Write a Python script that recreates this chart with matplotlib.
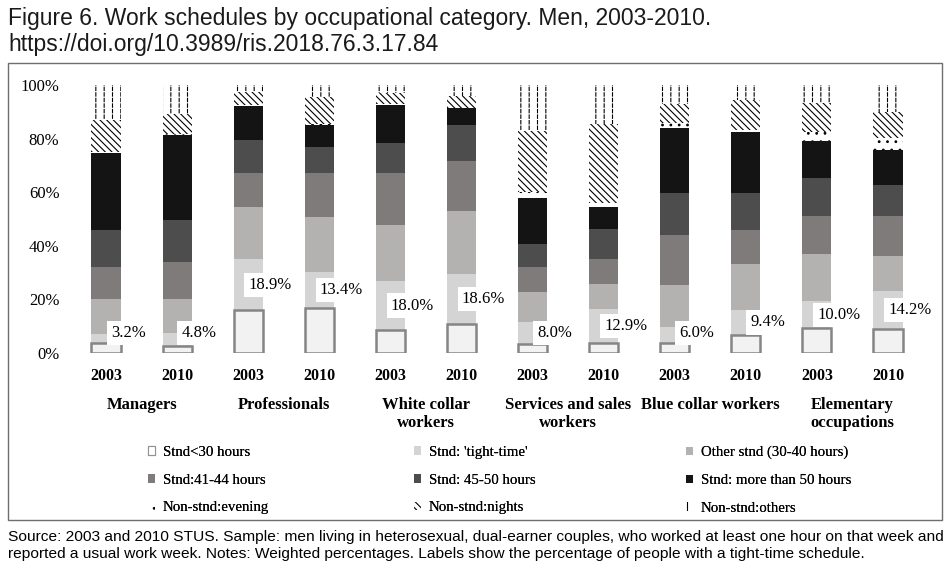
import numpy as np
import matplotlib
matplotlib.use("Agg")
import matplotlib.pyplot as plt
from matplotlib.patches import Patch, Rectangle
from matplotlib.ticker import PercentFormatter
from matplotlib.transforms import blended_transform_factory

# data (percentages)
categories = ["Managers", "Professionals", "White collar\nworkers",
              "Services and sales\nworkers", "Blue collar workers",
              "Elementary\noccupations"]
years = ["2003", "2010"]
series = ["Stnd<30 hours", "Stnd: 'tight-time'", "Other stnd (30-40 hours)",
          "Stnd:41-44 hours", "Stnd: 45-50 hours", "Stnd: more than 50 hours",
          "Non-stnd:evening", "Non-stnd:nights", "Non-stnd:others"]

# one row per bar: M03, M10, P03, P10, W03, W10, S03, S10, B03, B10, E03, E10
stnd_lt30 = [3.9, 2.6, 16.0, 16.8, 8.7, 10.9, 3.5, 3.6, 3.7, 6.7, 9.3, 8.9]
tight_time = [3.2, 4.8, 18.9, 13.4, 18.0, 18.6, 8.0, 12.9, 6.0, 9.4, 10.0, 14.2]
other_stnd = [12.9, 12.6, 19.7, 20.4, 21.1, 23.6, 11.1, 9.1, 15.7, 17.1, 17.6, 13.1]
stnd_41_44 = [12.2, 14.1, 12.7, 16.4, 19.2, 18.7, 9.4, 9.5, 18.6, 12.7, 14.2, 14.9]
stnd_45_50 = [13.7, 15.5, 12.2, 10.0, 11.2, 13.3, 8.6, 11.2, 15.8, 13.9, 14.1, 11.6]
stnd_gt50 = [28.6, 31.7, 12.7, 8.1, 14.3, 6.2, 17.4, 8.3, 24.3, 22.8, 14.0, 13.0]
nonstd_evening = [0.5, 0.3, 0.3, 0.4, 0.3, 0.3, 2.2, 1.3, 1.6, 0.6, 3.1, 4.4]
nonstd_nights = [11.9, 7.5, 5.0, 10.1, 4.2, 4.2, 22.8, 29.6, 7.1, 11.3, 10.9, 9.9]
nonstd_others = [13.1, 10.9, 2.5, 4.4, 3.0, 4.2, 17.0, 14.5, 7.2, 5.5, 6.8, 10.0]

values = [stnd_lt30, tight_time, other_stnd, stnd_41_44, stnd_45_50,
          stnd_gt50, nonstd_evening, nonstd_nights, nonstd_others]

# styles
faces = ["#f2f2f2", "#d4d4d4", "#b4b1b1", "#807b7b", "#4d4d4d", "#141414",
         "white", "white", "white"]
hatches = [None, None, None, None, None, None, "..", "\\\\\\\\\\", "||"]

serif = ["Liberation Serif", "DejaVu Serif"]
sans = ["Liberation Sans", "DejaVu Sans"]
plt.rcParams["hatch.linewidth"] = 0.8

fig = plt.figure(figsize=(9.51, 5.70), dpi=100)
ax = fig.add_axes([70.5 / 951, 1 - 353 / 570, 853 / 951, 268 / 570])

n = len(stnd_lt30)
x = np.arange(n)
w = 0.41
bottom = np.zeros(n)
for i, vals in enumerate(values):
    v = np.array(vals) / 100
    if i == 0:
        ax.bar(x, v, w, bottom=bottom, color=faces[i], edgecolor="#858585",
               linewidth=1.8, zorder=3)
    elif hatches[i] is None:
        ax.bar(x, v, w, bottom=bottom, color=faces[i], linewidth=0, zorder=2)
    else:
        ax.bar(x, v, w, bottom=bottom, color=faces[i], edgecolor="black",
               hatch=hatches[i], linewidth=0, zorder=2)
        if i == 8:
            # break the vertical lines into dashes
            ax.bar(x, v, w, bottom=bottom, color="none", edgecolor="white",
                   hatch="---", linewidth=0, zorder=2.5)
    bottom += v

# tight-time labels
lt30 = np.array(stnd_lt30) / 100
tt = np.array(tight_time) / 100
for xi, b, t in zip(x, lt30, tt):
    ax.text(xi + 0.31, max(b + t / 2, 0.075), f"{t * 100:.1f}%",
            ha="center", va="center", fontsize=12, family=serif, zorder=5,
            bbox=dict(facecolor="white", edgecolor="none", pad=3))

ax.set_xlim(-0.5, n - 0.5)
ax.set_ylim(0, 1)
ax.set_yticks(np.arange(0, 1.01, 0.2))
ax.yaxis.set_major_formatter(PercentFormatter(1.0, decimals=0))
ax.set_xticks(x)
ax.set_xticklabels(years * len(categories), fontweight="bold")
for lab in ax.get_xticklabels():
    lab.set_family(serif)
    lab.set_fontsize(11.5)
for lab in ax.get_yticklabels():
    lab.set_family(serif)
    lab.set_fontsize(12)
ax.tick_params(axis="y", length=0, pad=8)
ax.tick_params(axis="x", length=0, pad=11)
for s in ax.spines.values():
    s.set_visible(False)

trans = blended_transform_factory(ax.transData, ax.transAxes)
for k, cat in enumerate(categories):
    ax.text(2 * k + 0.5, -44 / 268, cat, transform=trans, ha="center",
            va="top", fontsize=12, fontweight="bold", family=serif,
            linespacing=1.2)

# legend, three columns filled row by row
handles = []
for i in range(len(series)):
    if i == 0:
        handles.append(Patch(facecolor="white", edgecolor="#909090", linewidth=0.8))
    elif hatches[i] is None:
        handles.append(Patch(facecolor=faces[i], linewidth=0))
    else:
        handles.append(Patch(facecolor="white", edgecolor="black",
                             hatch=hatches[i], linewidth=0))
col_x = [148, 414, 686]
for c in range(3):
    idx = [c, c + 3, c + 6]
    leg = fig.legend([handles[j] for j in idx], [series[j] for j in idx],
                     loc="upper left", bbox_to_anchor=(col_x[c] / 951, 1 - 446 / 570),
                     frameon=False, borderpad=0, borderaxespad=0,
                     handlelength=0.5, handleheight=0.5, handletextpad=0.5,
                     labelspacing=0.98, prop={"family": serif, "size": 10.7})
    fig.add_artist(leg)

# frame around the chart
fig.add_artist(Rectangle((8 / 951, 1 - 520 / 570), 934 / 951, 457 / 570,
                         transform=fig.transFigure, fill=False,
                         edgecolor="#6e6e6e", linewidth=1.0))

fig.text(8 / 951, 1 - 7 / 570,
         "Figure 6. Work schedules by occupational category. Men, 2003-2010.\n"
         "https://doi.org/10.3989/ris.2018.76.3.17.84",
         ha="left", va="top", fontsize=16.5, family=sans, color="#1a1a1a",
         linespacing=1.18)
fig.text(8 / 951, 1 - 530 / 570,
         "Source: 2003 and 2010 STUS. Sample: men living in heterosexual, dual-earner "
         "couples, who worked at least one hour on that week and\n"
         "reported a usual work week. Notes: Weighted percentages. Labels show the "
         "percentage of people with a tight-time schedule.",
         ha="left", va="top", fontsize=11.15, family=sans, color="black",
         linespacing=1.25)

fig.savefig("out.png", dpi=100)
